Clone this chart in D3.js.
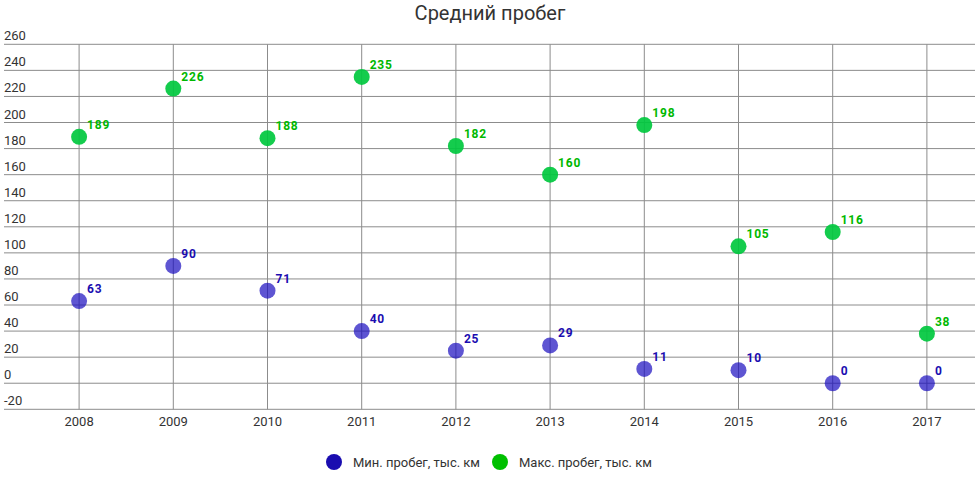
<!DOCTYPE html>
<html>
<head>
<meta charset="utf-8">
<script src="https://cdn.jsdelivr.net/npm/d3@7"></script>
<style>
  body { margin: 0; background: #fff; }
  text { font-family: Roboto, 'Open Sans', sans-serif; }
</style>
</head>
<body>
<div id="chart"></div>
<script>
const years = ['2008', '2009', '2010', '2011', '2012', '2013', '2014', '2015', '2016', '2017'];
const minRun = [63, 90, 71, 40, 25, 29, 11, 10, 0, 0];
const maxRun = [189, 226, 188, 235, 182, 160, 198, 105, 116, 38];
const yTicks = [-20, 0, 20, 40, 60, 80, 100, 120, 140, 160, 180, 200, 220, 240, 260];
const seriesNames = ['Мин. пробег, тыс. км', 'Макс. пробег, тыс. км'];

const width = 980, height = 477;
const svg = d3.select('#chart').append('svg').attr('width', width).attr('height', height);

let x = d3.scaleBand().domain(years).range([32, 974]);
let y = d3.scaleLinear().domain([-20, 260]).range([409.3, 44.3]);

// horizontal grid + y labels
svg.append('g').selectAll('line').data(yTicks).enter().append('line')
  .attr('x1', 4).attr('x2', 975)
  .attr('y1', d => y(d)).attr('y2', d => y(d))
  .attr('stroke', '#8c8c8c').attr('stroke-width', 1);

svg.append('g').selectAll('text').data(yTicks).enter().append('text')
  .attr('x', 4).attr('y', d => y(d) - 4)
  .attr('font-size', 13).attr('fill', '#333')
  .text(d => d);

// vertical grid
svg.append('g').selectAll('line').data(years).enter().append('line')
  .attr('x1', d => x(d) + x.bandwidth() / 2).attr('x2', d => x(d) + x.bandwidth() / 2)
  .attr('y1', y(260)).attr('y2', y(-20))
  .attr('stroke', '#8c8c8c').attr('stroke-width', 1);

svg.append('g').selectAll('text').data(years).enter().append('text')
  .attr('x', d => x(d) + x.bandwidth() / 2).attr('y', 426)
  .attr('text-anchor', 'middle')
  .attr('font-size', 13).attr('fill', '#333')
  .text(d => d);

// title
svg.append('text')
  .attr('x', 490).attr('y', 20)
  .attr('text-anchor', 'middle')
  .attr('font-size', 20).attr('fill', '#333')
  .text('Средний пробег');

const series = [
  { values: minRun, fill: '#1a0dbf', opacity: 0.7, label: '#1a0db0' },
  { values: maxRun, fill: '#00c83e', opacity: 0.92, label: '#00b800' }
];

series.forEach(function(s) {
  let g = svg.append('g');
  g.selectAll('circle').data(s.values).enter().append('circle')
    .attr('cx', (d, i) => x(years[i]) + x.bandwidth() / 2)
    .attr('cy', d => y(d))
    .attr('r', 8)
    .attr('fill', s.fill)
    .attr('fill-opacity', s.opacity);
  g.selectAll('text').data(s.values).enter().append('text')
    .attr('x', (d, i) => x(years[i]) + x.bandwidth() / 2 + 8)
    .attr('y', d => y(d) - 8)
    .attr('font-size', 12).attr('font-weight', 'bold')
    .attr('letter-spacing', 0.8)
    .attr('fill', s.label)
    .text(d => d);
});

// legend
let lx = [334, 500];
let legendColors = ['#1a0db0', '#00c000'];
for (let i = 0; i < seriesNames.length; i++) {
  svg.append('circle')
    .attr('cx', lx[i]).attr('cy', 462).attr('r', 8)
    .attr('fill', legendColors[i]);
  svg.append('text')
    .attr('x', lx[i] + 19).attr('y', 467)
    .attr('font-size', 13).attr('fill', '#333')
    .text(seriesNames[i]);
}
</script>
</body>
</html>
